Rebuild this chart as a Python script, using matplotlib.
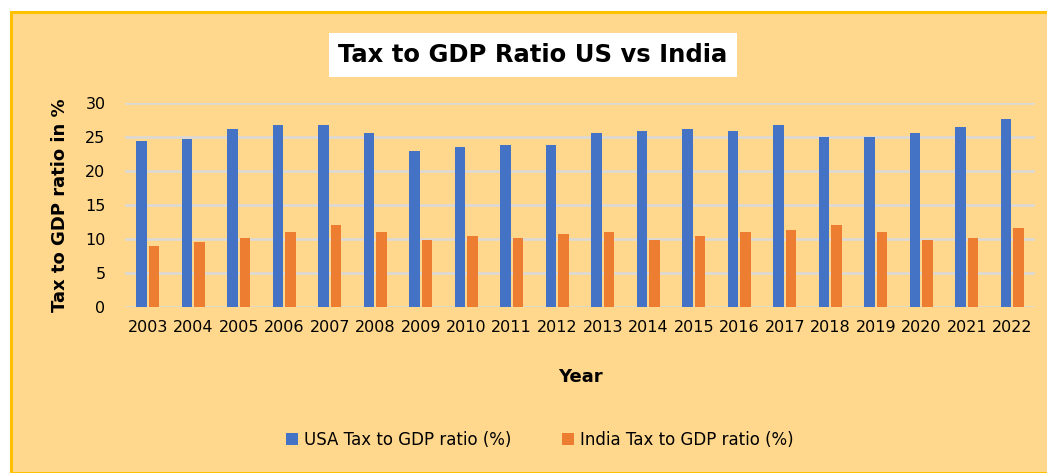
import matplotlib.pyplot as plt
import numpy as np
from matplotlib.patches import Rectangle

years = [str(y) for y in range(2003, 2023)]
usa = [24.4, 24.7, 26.2, 26.8, 26.8, 25.6, 22.9, 23.5, 23.8, 23.8,
       25.6, 25.9, 26.2, 25.9, 26.8, 25.0, 25.0, 25.6, 26.5, 27.7]
india = [8.9, 9.6, 10.1, 11.0, 12.0, 11.0, 9.9, 10.4, 10.1, 10.7,
         11.0, 9.9, 10.4, 11.0, 11.3, 12.0, 11.0, 9.9, 10.1, 11.6]

bg = '#FFD88E'
fig = plt.figure(figsize=(10.47, 4.73), dpi=100)
fig.patch.set_facecolor('white')

# chart panel with gold border (top / left)
fig.patches.append(Rectangle((11 / 1047, 0), 1.0, 1 - 12 / 473, transform=fig.transFigure,
                             facecolor=bg, edgecolor='#FFC000', linewidth=2.2, zorder=-10))

ax = fig.add_axes([125 / 1047, 1 - 307 / 473, 910 / 1047, 204 / 473])
ax.set_zorder(1)
ax.patch.set_alpha(0)

x = np.arange(len(years))
w = 0.23
ax.bar(x - 0.135, usa, w, color='#4472C4', label='USA Tax to GDP ratio (%)', zorder=3)
ax.bar(x + 0.135, india, w, color='#ED7D31', label='India Tax to GDP ratio (%)', zorder=3)

ax.set_xlim(-0.5, len(years) - 0.5)
ax.set_ylim(0, 30)
ax.set_yticks(range(0, 31, 5))
ax.yaxis.grid(True, color='#D9D9D9', linewidth=1.8, zorder=0)
ax.set_axisbelow(True)
for s in ax.spines.values():
    s.set_visible(False)
ax.tick_params(length=0)
ax.tick_params(axis='y', labelsize=11.5, pad=14)
ax.tick_params(axis='x', labelsize=11.5, pad=9)
ax.set_xticks(x)
ax.set_xticklabels(years)

ax.set_xlabel('Year', fontsize=13, fontweight='bold', labelpad=24)
ax.set_ylabel('Tax to GDP ratio in %', fontsize=13, fontweight='bold', labelpad=12)

fig.text(533 / 1047, 1 - 55 / 473, 'Tax to GDP Ratio US vs India', ha='center', va='center',
         fontsize=17.5, fontweight='bold',
         bbox=dict(boxstyle='square,pad=0.4', facecolor='white', edgecolor='none'))

fig.legend(loc='center', bbox_to_anchor=(540 / 1047, 1 - 440 / 473), ncol=2, frameon=False,
           fontsize=12, handlelength=0.7, handleheight=0.7, columnspacing=3.0, handletextpad=0.4)

fig.savefig('out.png', dpi=100, facecolor=fig.get_facecolor())
